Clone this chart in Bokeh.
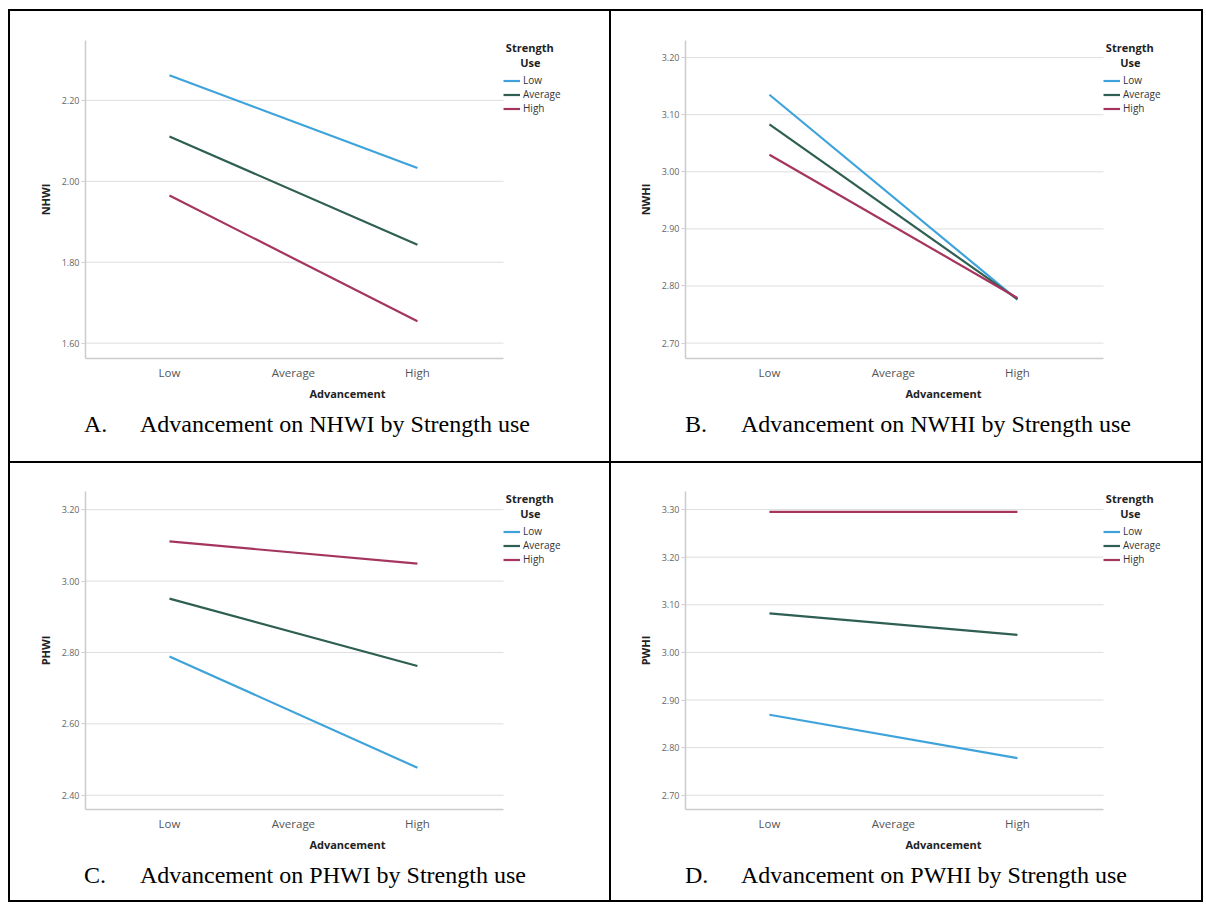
from bokeh.plotting import figure
from bokeh.models import (Range1d, FixedTicker, NumeralTickFormatter, Legend, LegendItem, Div)
from bokeh.layouts import column, row
from bokeh.embed import file_html
from bokeh.resources import INLINE

# ---------------- data ----------------
categories = ["Low", "Average", "High"]
line_points = ["Low", "High"]
series_names = ["Low", "Average", "High"]

a_low = [2.262, 2.033]
a_avg = [2.111, 1.843]
a_high = [1.965, 1.654]
a_ticks = [1.60, 1.80, 2.00, 2.20]

b_low = [3.135, 2.776]
b_avg = [3.083, 2.777]
b_high = [3.030, 2.779]
b_ticks = [2.70, 2.80, 2.90, 3.00, 3.10, 3.20]

c_low = [2.789, 2.477]
c_avg = [2.951, 2.762]
c_high = [3.111, 3.049]
c_ticks = [2.40, 2.60, 2.80, 3.00, 3.20]

d_low = [2.869, 2.778]
d_avg = [3.082, 3.037]
d_high = [3.295, 3.295]
d_ticks = [2.70, 2.80, 2.90, 3.00, 3.10, 3.20, 3.30]

colors = ["#3fa3db", "#2e5f52", "#a5355e"]
FONT = "Open Sans"
X0, X1 = 0.323, 3.694          # visible category axis extent
AXIS_W, FRAME_H = 418, 318     # plotted axis area in px
NB = "\u00a0"


def chart(ylabel, low, avg, high, ticks, yr, width, height, b_left, b_top, b_bottom):
    frame_w = width - b_left
    px_per_unit = AXIS_W / (X1 - X0)
    x_end = X0 + frame_w / px_per_unit
    p = figure(width=width, height=height, output_backend="svg", toolbar_location=None,
               x_range=Range1d(X0, x_end), y_range=Range1d(*yr),
               min_border_left=b_left, min_border_right=0,
               min_border_top=b_top, min_border_bottom=b_bottom, margin=0)
    p.outline_line_color = None
    p.background_fill_color = "white"
    p.border_fill_color = "white"

    # horizontal grid lines restricted to the axis area
    p.xgrid.grid_line_color = None
    p.ygrid.grid_line_color = None
    p.segment(x0=[X0] * len(ticks), x1=[X1] * len(ticks), y0=ticks, y1=ticks,
              line_color="#dedede", line_width=1)

    xpos = [categories.index(c) + 1 for c in line_points]
    renderers = []
    for vals, col in zip([low, avg, high], colors):
        r = p.line(xpos, vals, line_color=col, line_width=2.2)
        renderers.append(r)

    xa = p.xaxis[0]
    xa.bounds = (X0, X1)
    xa.ticker = FixedTicker(ticks=[categories.index(c) + 1 for c in categories])
    xa.major_label_overrides = {categories.index(c) + 1: c for c in categories}
    xa.axis_label = "Advancement"
    xa.axis_label_text_font = FONT
    xa.axis_label_text_font_style = "bold"
    xa.axis_label_text_font_size = "11px"
    xa.axis_label_text_color = "#222222"
    xa.axis_label_standoff = 3
    xa.major_label_text_font = FONT
    xa.major_label_text_font_size = "11.5px"
    xa.major_label_text_color = "#555555"
    xa.major_tick_line_color = None
    xa.minor_tick_line_color = None
    xa.axis_line_color = "#cccccc"
    xa.axis_line_width = 1.5
    xa.major_label_standoff = 0

    ya = p.yaxis[0]
    ya.ticker = FixedTicker(ticks=ticks)
    ya.formatter = NumeralTickFormatter(format="0.00")
    ya.axis_label = ylabel
    ya.axis_label_text_font = FONT
    ya.axis_label_text_font_style = "bold"
    ya.axis_label_text_font_size = "11px"
    ya.axis_label_text_color = "#222222"
    ya.axis_label_standoff = 6
    ya.major_label_text_font = FONT
    ya.major_label_text_font_size = "9px"
    ya.major_label_text_color = "#666666"
    ya.major_tick_out = 4
    ya.major_tick_in = 0
    ya.major_tick_line_color = "#d0d0d0"
    ya.minor_tick_line_color = None
    ya.axis_line_color = "#cccccc"
    ya.axis_line_width = 1.5
    ya.major_label_standoff = 2

    legend = Legend(items=[LegendItem(label=n, renderers=[r]) for n, r in zip(series_names, renderers)],
                    title=NB + "Strength\n" + NB * 6 + "Use", location=(AXIS_W, FRAME_H - 75))
    legend.title_text_font = FONT
    legend.title_text_font_style = "bold"
    legend.title_text_font_size = "11px"
    legend.title_text_line_height = 1.1
    legend.title_text_color = "#222222"
    legend.title_standoff = 3
    legend.label_text_font = FONT
    legend.label_text_font_size = "10px"
    legend.label_text_line_height = 1.0
    legend.label_text_color = "#333333"
    legend.label_height = 11
    legend.glyph_height = 11
    legend.glyph_width = 17
    legend.label_standoff = 3
    legend.spacing = -2
    legend.padding = 2
    legend.margin = 0
    legend.border_line_color = None
    legend.background_fill_alpha = 0
    p.add_layout(legend)
    return p


def caption(letter, ylabel, width, height):
    html = ('<div style="font-family:\'Liberation Serif\';font-size:24px;color:#000;'
            'white-space:nowrap;line-height:26px;padding-left:74px;">'
            '<span style="display:inline-block;width:56px;">' + letter + '.</span>'
            'Advancement on ' + ylabel + ' by Strength use</div>')
    return Div(text=html, width=width, height=height, margin=0,
               styles={"background-color": "white"})


def cell(letter, ylabel, low, avg, high, ticks, yr, width, fig_h, cap_h, b_left, b_top, b_bottom):
    p = chart(ylabel, low, avg, high, ticks, yr, width, fig_h, b_left, b_top, b_bottom)
    return column(p, caption(letter, ylabel, width, cap_h), margin=0, spacing=0)


def hline(w):
    return Div(width=w, height=2, margin=0, styles={"background-color": "black"})


def vline(h):
    return Div(width=2, height=h, margin=0, styles={"background-color": "black"})


H1, H2 = 450, 437
cA = cell("A", "NHWI", a_low, a_avg, a_high, a_ticks, (1.562, 2.348), 599, 400, 50, 75, 29, 53)
cB = cell("B", "NWHI", b_low, b_avg, b_high, b_ticks, (2.673, 3.230), 590, 400, 50, 74, 29, 53)
cC = cell("C", "PHWI", c_low, c_avg, c_high, c_ticks, (2.360, 3.251), 599, 399, 38, 75, 28, 53)
cD = cell("D", "PWHI", d_low, d_avg, d_high, d_ticks, (2.670, 3.338), 590, 399, 38, 74, 28, 53)

W = 2 + 599 + 2 + 590 + 2
layout = column(
    hline(W),
    row(vline(H1), cA, vline(H1), cB, vline(H1), margin=0, spacing=0),
    hline(W),
    row(vline(H2), cC, vline(H2), cD, vline(H2), margin=0, spacing=0),
    hline(W),
    margin=(9, 0, 0, 8), spacing=0,
)

open("out.html", "w").write(file_html(layout, INLINE))
